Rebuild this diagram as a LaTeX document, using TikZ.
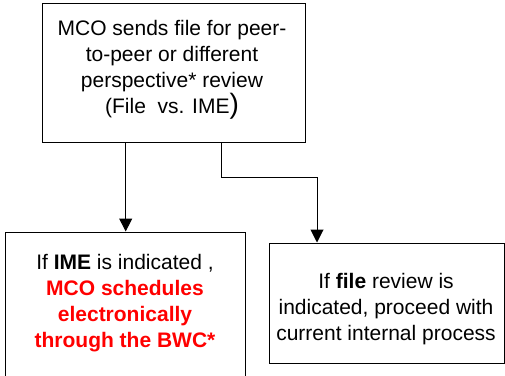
\documentclass[tikz,border=0pt]{standalone}
\usepackage{fontspec}
\setmainfont{Liberation Sans}
\usetikzlibrary{arrows.meta}
\definecolor{redtext}{RGB}{255,0,0}
\tikzset{
  box/.style={draw=black, line width=1pt, rectangle, inner sep=0pt},
  txt/.style={align=center, inner sep=0pt, font=\fontsize{21}{26}\selectfont},
  conn/.style={draw=black, line width=1pt, -{Triangle[width=13pt,length=13pt]}}
}
\begin{document}
\begin{tikzpicture}[x=1pt,y=-1pt]
\useasboundingbox (0,0) rectangle (505,375);
\node[box, minimum width=263pt, minimum height=139pt] (top) at (173.5,72.5) {};
\node[box, minimum width=240pt, minimum height=144pt] (left) at (125,304) {};
\node[box, minimum width=235pt, minimum height=120pt] (right) at (386.5,303) {};
\node[txt] (toptxt) at (172,70) {MCO sends file for peer-\\to-peer or different\\perspective* review\\(File\ \ vs. IME{\fontsize{28}{26}\selectfont )}};
\node[txt] (lefttxt) at (125,303) {If \textbf{IME} is indicated ,\\\textcolor{redtext}{\textbf{MCO schedules}}\\\textcolor{redtext}{\textbf{electronically}}\\\textcolor{redtext}{\textbf{through the BWC*}}};
\node[txt] (righttxt) at (386,309) {If \textbf{file} review is\\indicated, proceed with\\current internal process};
\coordinate (s1) at (125.7,142);
\coordinate (s2) at (221,142);
\coordinate (b1) at (221,177);
\coordinate (b2) at (317,177);
\draw[conn] (s1) -- (s1 |- left.north);
\draw[conn] (s2) -- (b1) -- (b2) -- (b2 |- right.north);
\end{tikzpicture}
\end{document}
